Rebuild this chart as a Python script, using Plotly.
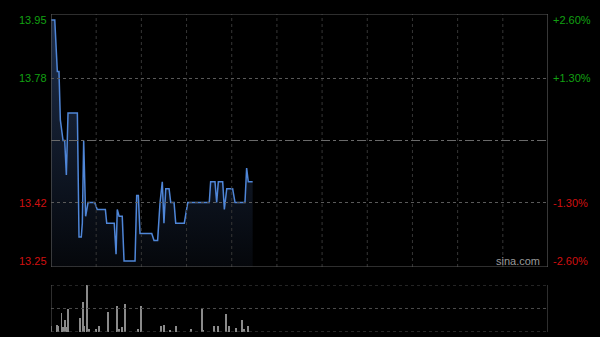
import plotly.graph_objects as go

# ---- data ----
prev_close = 13.60
minutes = [0, 2.5, 4.2, 5.3, 6.2, 8.0, 9.1, 10.2, 11.3, 17.5, 18.6, 20.1, 20.8, 21.7, 23.0,
           24.6, 29.0, 30.7, 36.1, 37.0, 42.0, 43.2, 44.0, 45.2, 47.3, 48.5, 55.8, 56.9, 58.0,
           59.1, 66.9, 68.4, 70.8, 72.4, 73.9, 75.0, 76.2, 78.4, 79.5, 81.7, 82.8, 88.5, 90.8,
           105.1, 106.0, 108.9, 110.0, 111.1, 114.0, 115.1, 116.7, 120.6, 122.2, 128.8, 129.9,
           131.0, 133.9]
prices = [13.95, 13.95, 13.80, 13.80, 13.66, 13.60, 13.60, 13.50, 13.68, 13.68, 13.32, 13.32,
          13.36, 13.60, 13.38, 13.42, 13.42, 13.40, 13.40, 13.36, 13.36, 13.27, 13.40, 13.38,
          13.38, 13.25, 13.25, 13.44, 13.44, 13.33, 13.33, 13.31, 13.31, 13.42, 13.48, 13.36,
          13.46, 13.46, 13.42, 13.42, 13.36, 13.36, 13.42, 13.42, 13.48, 13.48, 13.42, 13.48,
          13.48, 13.40, 13.46, 13.46, 13.42, 13.42, 13.52, 13.48, 13.48]

vol_minutes = [0, 4, 5, 7, 8, 9, 10, 11, 19, 21, 22, 24, 25, 30, 32, 38, 44, 45, 47, 49, 58,
               60, 73, 75, 79, 83, 93, 100, 101, 108, 111, 116, 118, 123, 127, 128, 131]
volumes = [60000, 70000, 60000, 187000, 50000, 120000, 50000, 230000, 137000, 300000, 60000,
           470000, 30000, 30000, 60000, 200000, 260000, 30000, 50000, 280000, 30000, 260000,
           60000, 75000, 20000, 60000, 30000, 230000, 20000, 60000, 60000, 180000, 60000,
           40000, 120000, 30000, 60000]
vol_max = 470000

left_ticks = [13.95, 13.78, 13.42, 13.25]
left_labels = ["13.95", "13.78", "13.42", "13.25"]
right_labels = ["+2.60%", "+1.30%", "-1.30%", "-2.60%"]
tick_colors = ["#12a012", "#12a012", "#d01010", "#d01010"]

# ---- figure ----
y_lo = prev_close * (1 - 0.027)
y_hi = prev_close * (1 + 0.027)
x_max = 330

fig = go.Figure()
fig.add_trace(go.Scatter(
    x=minutes, y=prices, mode="lines",
    line=dict(color="#4f86d8", width=1.5),
    fill="tozeroy",
    fillgradient=dict(type="vertical",
                      colorscale=[[0, "#05070b"], [1, "#1e2e4a"]],
                      start=y_lo, stop=max(prices)),
    hoverinfo="skip", xaxis="x", yaxis="y"))

fig.add_trace(go.Bar(
    x=vol_minutes, y=volumes, width=0.6,
    marker=dict(color="#8a8a8a", line=dict(width=0)),
    xaxis="x2", yaxis="y2", hoverinfo="skip"))

shapes = []
grid_col = "#363636"
# vertical gridlines in price panel
for m in range(30, x_max, 30):
    shapes.append(dict(type="line", xref="x", yref="y", x0=m, x1=m, y0=y_lo, y1=y_hi,
                       line=dict(color=grid_col, width=1, dash="dot")))
# horizontal gridlines
for v in [left_ticks[1], left_ticks[2]]:
    shapes.append(dict(type="line", xref="x", yref="y", x0=0, x1=x_max, y0=v, y1=v,
                       line=dict(color="#5a5a5a", width=1, dash="dot")))
shapes.append(dict(type="line", xref="x", yref="y", x0=0, x1=x_max, y0=prev_close, y1=prev_close,
                   line=dict(color="#6a6a6a", width=1, dash="dashdot")))
# price panel border
shapes.append(dict(type="rect", xref="x", yref="y", x0=0, x1=x_max, y0=y_lo, y1=y_hi,
                   line=dict(color="#5c5c5c", width=1.2)))
# volume panel
for v in [vol_max, vol_max / 2, 0]:
    shapes.append(dict(type="line", xref="x2", yref="y2", x0=0, x1=x_max, y0=v, y1=v,
                       line=dict(color="#4a4a4a", width=1, dash="dot")))
for xv in [0, x_max]:
    shapes.append(dict(type="line", xref="x2", yref="y2", x0=xv, x1=xv, y0=0, y1=vol_max,
                       line=dict(color="#5c5c5c", width=1)))

annotations = []
for v, lt, rt, c in zip(left_ticks, left_labels, right_labels, tick_colors):
    annotations.append(dict(xref="paper", yref="y", x=0, y=v, text=lt, showarrow=False,
                            xanchor="right", yanchor="middle", xshift=-2,
                            font=dict(family="Arial, Liberation Sans", size=11, color=c)))
    annotations.append(dict(xref="paper", yref="y", x=1, y=v, text=rt, showarrow=False,
                            xanchor="left", yanchor="middle", xshift=3,
                            font=dict(family="Arial, Liberation Sans", size=11, color=c)))
annotations.append(dict(xref="paper", yref="y", x=0.98, y=13.25, text="sina.com", showarrow=False,
                        xanchor="right", yanchor="middle", xshift=4,
                        font=dict(family="Arial, Liberation Sans", size=11, color="#9a9a9a")))

fig.update_layout(
    width=600, height=337,
    margin=dict(l=51, r=52, t=14, b=5),
    paper_bgcolor="#000000", plot_bgcolor="#000000",
    showlegend=False,
    xaxis=dict(range=[0, x_max], domain=[0, 1], showgrid=False, zeroline=False,
               showticklabels=False, ticks="", anchor="y"),
    yaxis=dict(range=[y_lo, y_hi], domain=[0.2044, 1], showgrid=False, zeroline=False,
               showticklabels=False, ticks=""),
    xaxis2=dict(range=[0, x_max], domain=[0, 1], showgrid=False, zeroline=False,
                showticklabels=False, ticks="", anchor="y2"),
    yaxis2=dict(range=[0, vol_max], domain=[0, 0.1478], showgrid=False, zeroline=False,
                showticklabels=False, ticks=""),
    shapes=shapes, annotations=annotations,
    bargap=0,
)

fig.write_html("out.html")
